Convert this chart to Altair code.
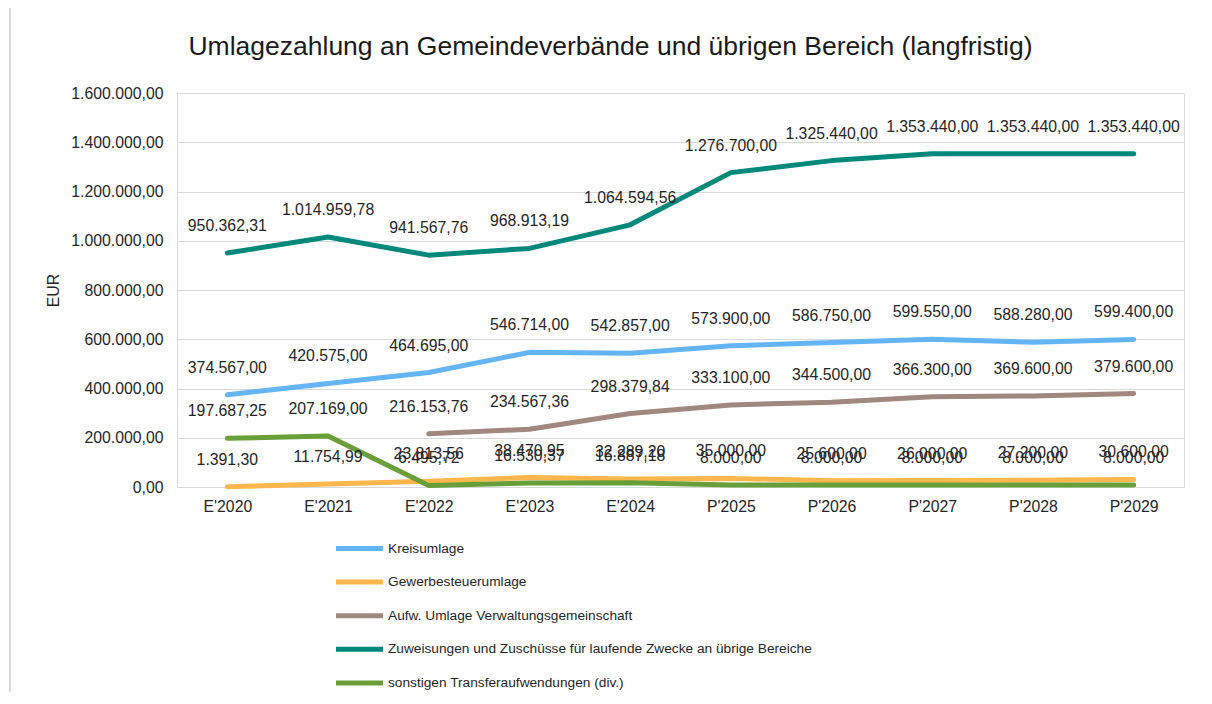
import altair as alt
import pandas as pd

categories = ["E'2020", "E'2021", "E'2022", "E'2023", "E'2024",
              "P'2025", "P'2026", "P'2027", "P'2028", "P'2029"]

series_names = [
    "Kreisumlage",
    "Gewerbesteuerumlage",
    "Aufw. Umlage Verwaltungsgemeinschaft",
    "Zuweisungen und Zuschüsse für laufende Zwecke an übrige Bereiche",
    "sonstigen Transferaufwendungen (div.)",
]

kreisumlage = [374567.00, 420575.00, 464695.00, 546714.00, 542857.00,
               573900.00, 586750.00, 599550.00, 588280.00, 599400.00]
gewerbesteuerumlage = [1391.30, 11754.99, 23813.56, 38470.95, 32289.20,
                       35000.00, 25600.00, 26000.00, 27200.00, 30600.00]
verwaltungsgemeinschaft = [None, None, 216153.76, 234567.36, 298379.84,
                           333100.00, 344500.00, 366300.00, 369600.00, 379600.00]
zuweisungen = [950362.31, 1014959.78, 941567.76, 968913.19, 1064594.56,
               1276700.00, 1325440.00, 1353440.00, 1353440.00, 1353440.00]
sonstige = [197687.25, 207169.00, 6495.72, 16530.37, 16887.18,
            8000.00, 8000.00, 8000.00, 8000.00, 8000.00]

colors = ["#64B5F6", "#FFB74D", "#A1887F", "#00897B", "#689F38"]

all_series = [kreisumlage, gewerbesteuerumlage, verwaltungsgemeinschaft, zuweisungen, sonstige]


def de_format(v):
    s = f"{v:,.2f}"
    return s.replace(",", "#").replace(".", ",").replace("#", ".")


rows = []
for si, (name, vals) in enumerate(zip(series_names, all_series)):
    for cat, v in zip(categories, vals):
        if v is None:
            continue
        rows.append({"cat": cat, "series": name, "value": v, "label": de_format(v), "order": si})
df = pd.DataFrame(rows)

FONT = "Liberation Sans"
TXT = "#262626"

x_enc = alt.X("cat:N", sort=categories,
              scale=alt.Scale(type="point", padding=0.5),
              axis=alt.Axis(title=None, labelAngle=0, domain=False, ticks=False,
                            labelPadding=12, labelFontSize=15.8, labelFont=FONT,
                            labelColor=TXT, grid=False))
y_enc = alt.Y("value:Q",
              scale=alt.Scale(domain=[0, 1600000], nice=False),
              axis=alt.Axis(title="EUR", values=[0, 200000, 400000, 600000, 800000,
                                                 1000000, 1200000, 1400000, 1600000],
                            labelExpr="replace(replace(replace(format(datum.value, ',.2f'), regexp(',', 'g'), '_'), regexp('[.]', 'g'), ','), regexp('_', 'g'), '.')",
                            domain=False, ticks=False, labelPadding=14,
                            labelFontSize=15.8, labelFont=FONT, labelColor=TXT,
                            gridColor="#D9D9D9", gridWidth=1,
                            titleFont=FONT, titleFontSize=15.8, titleFontWeight="normal",
                            titleColor=TXT, titleX=-124, titleY=197,
                            titleAlign="center", titleBaseline="middle"))

base = alt.Chart(df)

lines = base.mark_line(strokeWidth=5, strokeCap="round", strokeJoin="round").encode(
    x=x_enc,
    y=y_enc,
    color=alt.Color("series:N",
                    scale=alt.Scale(domain=series_names, range=colors),
                    legend=alt.Legend(title=None, orient="none", legendX=168, legendY=441,
                                      direction="vertical", symbolType="M-2,0H2",
                                      symbolSize=552, symbolStrokeWidth=5,
                                      labelFont=FONT, labelFontSize=13.7, labelColor=TXT,
                                      labelOffset=14, rowPadding=8.6, labelLimit=800)),
    order=alt.Order("order:Q"),
)

labels = base.mark_text(dy=-27, baseline="middle", align="center", font=FONT,
                        fontSize=15.8, color=TXT).encode(
    x=alt.X("cat:N", sort=categories, scale=alt.Scale(type="point", padding=0.5)),
    y=alt.Y("value:Q"),
    text="label:N",
)

border = alt.Chart(pd.DataFrame({"a": [0]})).mark_rule(color="#D9D9D9", strokeWidth=2).encode(
    x=alt.value(-167), y=alt.value(-93), y2=alt.value(611)
)

chart = alt.layer(border, lines, labels).properties(
    width=1007,
    height=394,
    padding={"left": 169, "top": 85, "right": 20, "bottom": 205},
    autosize=alt.AutoSizeParams(type="none"),
    title=alt.TitleParams(
        "Umlagezahlung an Gemeindeverbände und übrigen Bereich (langfristig)",
        font=FONT, fontSize=26.5, fontWeight="normal", color="#1a1a1a",
        anchor="middle", dx=-70, offset=-82, baseline="alphabetic"),
).configure_view(stroke=None).configure(background="white")

chart.save("out.html", embed_options={"renderer": "svg", "actions": False})
